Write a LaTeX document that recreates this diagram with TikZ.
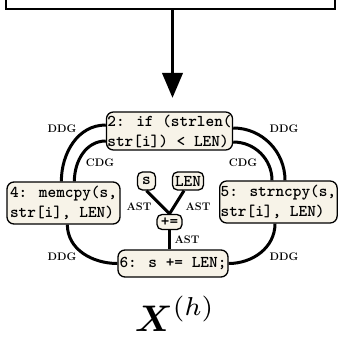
\documentclass[tikz,border=0pt]{standalone}
\usepackage{amsmath}
\usetikzlibrary{arrows.meta,positioning}

\definecolor{stmtfill}{RGB}{247,243,232}

\begin{document}
\begin{tikzpicture}[x=1pt,y=-1pt,
  stmt/.style={draw,fill=stmtfill,rounded corners=7pt,line width=1.3pt,
    inner sep=1pt,align=left,font=\fontsize{16.5}{20}\selectfont\ttfamily\bfseries},
  astnode/.style={stmt,rounded corners=5pt},
  dep/.style={line width=3pt},
  deplabel/.style={font=\fontsize{11}{13}\selectfont\bfseries,inner sep=0pt}]

  \useasboundingbox (0,0) rectangle (337,339);

  % input box and arrow
  \draw[line width=1.8pt] (6,-5) -- (6,9) -- (335,9) -- (335,-5);
  \coordinate (inbot) at (172.5,9);
  \coordinate (intip) at (172.5,98);
  \draw[line width=3.8pt,-{Triangle[length=25pt,width=20pt]}] (inbot) -- (intip);

  % statements
  \node[stmt,minimum width=125pt,minimum height=38pt] (stmt2) at (169.5,131)
    {2: if (strlen(\\str[i]) < LEN)};
  \node[stmt,minimum width=113pt,minimum height=42pt] (stmt4) at (63.5,203)
    {4: memcpy(s,\\str[i], LEN)};
  \node[stmt,minimum width=117pt,minimum height=42pt,anchor=west] (stmt5) at (219,202)
    {5: strncpy(s,\\str[i], LEN)};
  \node[stmt,minimum width=110pt,minimum height=27pt] (stmt6) at (173,263.5)
    {6: s += LEN;};

  % ast of statement 6
  \node[astnode,minimum width=18pt,minimum height=18pt] (astS) at (146.5,181) {s};
  \node[astnode,minimum width=31pt,minimum height=18pt] (astLen) at (188,181) {LEN};
  \node[astnode,minimum width=25pt,minimum height=15pt] (astPlus) at (169.5,222) {+=};

  \draw[dep] (astS.south) -- (astPlus.north);
  \draw[dep] ([xshift=-4pt]astLen.south) -- (astPlus.north);
  \draw[dep] (astPlus.south) -- (astPlus.south |- stmt6.north);

  % dependence edges
  \draw[dep] ([yshift=6pt]stmt2.west) to[out=180,in=90] ([xshift=55pt]stmt4.north west);
  \draw[dep] ([yshift=-10pt]stmt2.west) to[out=180,in=90] ([xshift=68pt]stmt4.north west);
  \draw[dep] ([xshift=61pt]stmt4.south west) to[out=-90,in=180] (stmt6.west);
  \draw[dep] ([yshift=3pt]stmt2.east) to[out=0,in=90] ([xshift=66pt]stmt5.north west);
  \draw[dep] ([yshift=-11pt]stmt2.east) to[out=0,in=90] ([xshift=53pt]stmt5.north west);
  \draw[dep] ([xshift=56pt]stmt5.south west) to[out=-90,in=0] (stmt6.east);

  % edge labels
  \node[deplabel] (ddg1) at (62,129) {DDG};
  \node[deplabel] (cdg1) at (100,163) {CDG};
  \node[deplabel] (ddg2) at (284,129) {DDG};
  \node[deplabel] (cdg2) at (243,163) {CDG};
  \node[deplabel] (ddg3) at (62,257) {DDG};
  \node[deplabel] (ddg4) at (284,257) {DDG};
  \node[deplabel] (ast1) at (139,207) {AST};
  \node[deplabel] (ast2) at (198,207) {AST};
  \node[deplabel] (ast3) at (187,240) {AST};

  % graph name
  \node[scale=3.7,inner sep=0pt] (gname) at (175,314) {$\boldsymbol{X}^{(h)}$};

\end{tikzpicture}
\end{document}
